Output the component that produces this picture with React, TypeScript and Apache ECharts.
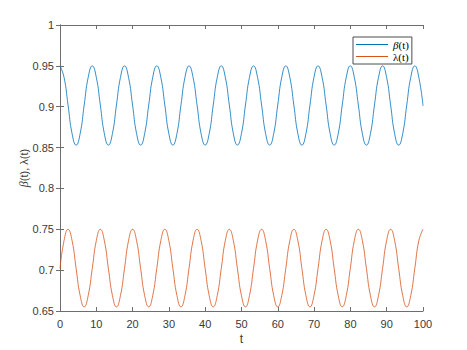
import React, { useEffect, useRef } from "react";
import * as echarts from "echarts";

// t samples (eighth-period points)
const tValues = [
  0, 1.11, 2.22, 3.33, 4.44, 5.55, 6.66, 7.77,
  8.89, 10.0, 11.11, 12.22, 13.33, 14.44, 15.55, 16.66,
  17.77, 18.88, 19.99, 21.1, 22.21, 23.32, 24.44, 25.55,
  26.66, 27.77, 28.88, 29.99, 31.1, 32.21, 33.32, 34.43,
  35.54, 36.65, 37.76, 38.87, 39.99, 41.1, 42.21, 43.32,
  44.43, 45.54, 46.65, 47.76, 48.87, 49.98, 51.09, 52.2,
  53.31, 54.42, 55.54, 56.65, 57.76, 58.87, 59.98, 61.09,
  62.2, 63.31, 64.42, 65.53, 66.64, 67.75, 68.86, 69.97,
  71.08, 72.2, 73.31, 74.42, 75.53, 76.64, 77.75, 78.86,
  79.97, 81.08, 82.19, 83.3, 84.41, 85.52, 86.63, 87.75,
  88.86, 89.97, 91.08, 92.19, 93.3, 94.41, 95.52, 96.63,
  97.74, 98.85, 100,
];

const betaValues = [
  0.95, 0.936, 0.902, 0.867, 0.853, 0.867, 0.902, 0.936,
  0.95, 0.936, 0.902, 0.867, 0.853, 0.867, 0.902, 0.936,
  0.95, 0.936, 0.902, 0.867, 0.853, 0.867, 0.902, 0.936,
  0.95, 0.936, 0.902, 0.867, 0.853, 0.867, 0.902, 0.936,
  0.95, 0.936, 0.902, 0.867, 0.853, 0.867, 0.902, 0.936,
  0.95, 0.936, 0.902, 0.867, 0.853, 0.867, 0.902, 0.936,
  0.95, 0.936, 0.902, 0.867, 0.853, 0.867, 0.902, 0.936,
  0.95, 0.936, 0.902, 0.867, 0.853, 0.867, 0.902, 0.936,
  0.95, 0.936, 0.902, 0.867, 0.853, 0.867, 0.902, 0.936,
  0.95, 0.936, 0.902, 0.867, 0.853, 0.867, 0.902, 0.936,
  0.95, 0.936, 0.902, 0.867, 0.853, 0.867, 0.902, 0.936,
  0.95, 0.936, 0.901,
];

const lambdaValues = [
  0.702, 0.736, 0.75, 0.736, 0.702, 0.669, 0.655, 0.669,
  0.702, 0.736, 0.75, 0.736, 0.702, 0.669, 0.655, 0.669,
  0.702, 0.736, 0.75, 0.736, 0.702, 0.669, 0.655, 0.669,
  0.702, 0.736, 0.75, 0.736, 0.702, 0.669, 0.655, 0.669,
  0.702, 0.736, 0.75, 0.736, 0.702, 0.669, 0.655, 0.669,
  0.702, 0.736, 0.75, 0.736, 0.702, 0.669, 0.655, 0.669,
  0.702, 0.736, 0.75, 0.736, 0.702, 0.669, 0.655, 0.669,
  0.702, 0.736, 0.75, 0.736, 0.702, 0.669, 0.655, 0.669,
  0.702, 0.736, 0.75, 0.736, 0.702, 0.669, 0.655, 0.669,
  0.702, 0.736, 0.75, 0.736, 0.702, 0.669, 0.655, 0.669,
  0.702, 0.736, 0.75, 0.736, 0.702, 0.669, 0.655, 0.669,
  0.702, 0.736, 0.75,
];

const seriesNames = ["β(t)", "λ(t)"];
const seriesColors = ["#0072BD", "#D95319"];

const AXIS_COLOR = "#6e6e6e";
const LABEL_COLOR = "#3a3a3a";
const FONT = "'Liberation Sans', Arial, Helvetica, sans-serif";
const SERIF = "'Liberation Serif', 'Times New Roman', serif";

export default function App() {
  const ref = useRef<HTMLDivElement>(null);

  useEffect(() => {
    if (!ref.current) return;
    const chart = echarts.init(ref.current, null, { renderer: "svg" });

    const fmt = (v: number) => parseFloat(v.toFixed(2)).toString();
    const axisLine = { show: true, lineStyle: { color: AXIS_COLOR, width: 1 } };
    const axisTick = { show: true, inside: true, length: 4, lineStyle: { color: AXIS_COLOR, width: 1 } };

    const mk = (vals: number[]) => tValues.map((t, i) => [t, vals[i]]);

    chart.setOption({
      animation: false,
      backgroundColor: "#ffffff",
      grid: { left: 60, top: 25, right: 44, bottom: 39, containLabel: false },
      legend: {
        orient: "vertical",
        left: 353,
        top: 37,
        padding: [2, 3, 2, 3],
        itemGap: 1,
        itemWidth: 32,
        itemHeight: 1,
        icon: "rect",
        borderColor: "#4d4d4d",
        borderWidth: 1,
        backgroundColor: "#ffffff",
        formatter: (n: string) => (n === seriesNames[0] ? "{i|β}(t)" : "λ(t)"),
        textStyle: {
          fontFamily: SERIF,
          fontSize: 11,
          color: "#000",
          lineHeight: 11,
          rich: {
            i: { fontFamily: SERIF, fontSize: 11, fontStyle: "italic", color: "#000" },
          },
        },
        data: seriesNames.map((n) => ({ name: n })),
      },
      xAxis: [
        {
          type: "value",
          min: 0,
          max: 100,
          interval: 10,
          position: "bottom",
          name: "t",
          nameLocation: "middle",
          nameGap: 22,
          nameMoveOverlap: false,
          nameTextStyle: { fontFamily: FONT, fontSize: 12, color: LABEL_COLOR },
          axisLine,
          axisTick,
          axisLabel: { fontFamily: FONT, fontSize: 11, color: LABEL_COLOR, margin: 7 },
          splitLine: { show: false },
        },
        {
          type: "value",
          min: 0,
          max: 100,
          interval: 10,
          position: "top",
          axisLine,
          axisTick,
          axisLabel: { show: false },
          splitLine: { show: false },
        },
      ],
      yAxis: [
        {
          type: "value",
          min: 0.65,
          max: 1,
          interval: 0.05,
          position: "left",
          name: "{i|β}(t), λ(t)",
          nameLocation: "middle",
          nameGap: 30,
          nameMoveOverlap: false,
          nameTextStyle: {
            fontFamily: FONT,
            fontSize: 11,
            color: LABEL_COLOR,
            rich: {
              i: { fontFamily: SERIF, fontSize: 12, fontStyle: "italic", color: LABEL_COLOR },
            },
          },
          axisLine,
          axisTick,
          axisLabel: { fontFamily: FONT, fontSize: 11, color: LABEL_COLOR, margin: 6, formatter: fmt },
          splitLine: { show: false },
        },
        {
          type: "value",
          min: 0.65,
          max: 1,
          interval: 0.05,
          position: "right",
          axisLine,
          axisTick,
          axisLabel: { show: false },
          splitLine: { show: false },
        },
      ],
      series: [
        {
          name: seriesNames[0],
          type: "line",
          data: mk(betaValues),
          showSymbol: false,
          smooth: 0.5,
          lineStyle: { color: seriesColors[0], width: 0.8 },
          itemStyle: { color: seriesColors[0] },
        },
        {
          name: seriesNames[1],
          type: "line",
          data: mk(lambdaValues),
          showSymbol: false,
          smooth: 0.5,
          lineStyle: { color: seriesColors[1], width: 0.8 },
          itemStyle: { color: seriesColors[1] },
        },
      ],
    });

    return () => chart.dispose();
  }, []);

  return <div ref={ref} style={{ width: 467, height: 350, position: "absolute", left: 0, top: 0 }} />;
}
